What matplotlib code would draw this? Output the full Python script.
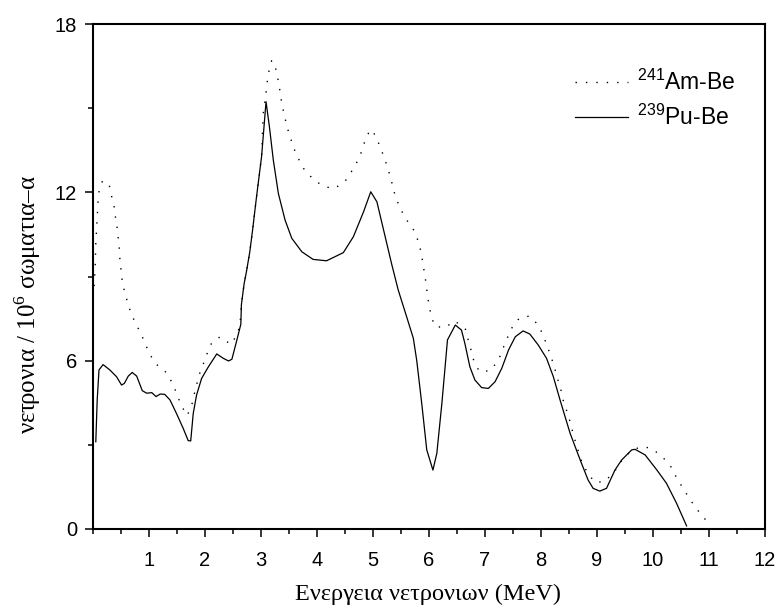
import matplotlib
matplotlib.use("Agg")
import matplotlib.pyplot as plt
from matplotlib.ticker import MultipleLocator

# Pu-Be (solid line)
pu_x = [0.05, 0.075, 0.107, 0.18, 0.30, 0.42, 0.51, 0.56, 0.63, 0.70, 0.78, 0.88,
        0.96, 1.05, 1.125, 1.20, 1.28, 1.375, 1.49, 1.61, 1.70, 1.745, 1.79, 1.85,
        1.94, 2.06, 2.21, 2.33, 2.42, 2.48, 2.57, 2.64, 2.65, 2.70, 2.74, 2.80,
        2.85, 2.92, 3.01, 3.09, 3.15, 3.22, 3.31, 3.43, 3.55, 3.73, 3.93, 4.17,
        4.47, 4.65, 4.83, 4.96, 5.07, 5.21, 5.33, 5.45, 5.60, 5.72, 5.78, 5.87,
        5.96, 6.07, 6.14, 6.23, 6.33, 6.47, 6.58, 6.64, 6.73, 6.82, 6.94, 7.06,
        7.18, 7.30, 7.42, 7.54, 7.68, 7.80, 7.95, 8.10, 8.22, 8.34, 8.52, 8.70,
        8.84, 8.93, 9.05, 9.17, 9.32, 9.44, 9.62, 9.68, 9.86, 10.07, 10.24, 10.42,
        10.60]
pu_y = [3.11, 4.6, 5.67, 5.86, 5.67, 5.43, 5.13, 5.19, 5.45, 5.58, 5.45, 4.93,
        4.84, 4.86, 4.72, 4.81, 4.80, 4.60, 4.12, 3.59, 3.15, 3.14, 4.12, 4.78,
        5.37, 5.78, 6.24, 6.08, 5.99, 6.05, 6.74, 7.30, 8.0, 8.76, 9.17, 9.88,
        10.66, 11.84, 13.27, 15.23, 14.34, 13.15, 11.96, 11.01, 10.36, 9.88, 9.61, 9.56,
        9.85, 10.42, 11.3, 12.02, 11.66, 10.48, 9.47, 8.52, 7.57, 6.80, 6.02, 4.48,
        2.82, 2.10, 2.70, 4.48, 6.74, 7.27, 7.09, 6.62, 5.78, 5.31, 5.04, 5.01,
        5.25, 5.73, 6.38, 6.85, 7.06, 6.95, 6.56, 6.08, 5.43, 4.60, 3.41, 2.46,
        1.75, 1.45, 1.35, 1.45, 2.10, 2.46, 2.82, 2.84, 2.64, 2.10, 1.63, 0.92,
        0.11]

# Am-Be (dotted line)
am_x = [0.02, 0.04, 0.05, 0.07, 0.09, 0.11, 0.17, 0.29, 0.33, 0.375, 0.40, 0.43,
        0.45, 0.47, 0.48, 0.50, 0.52, 0.56, 0.61, 0.67, 0.75, 0.85, 0.93, 1.01,
        1.125, 1.32, 1.42, 1.50, 1.57, 1.68, 1.76, 1.80, 1.85, 1.90, 1.97, 2.04,
        2.12, 2.27, 2.46, 2.57, 2.625, 2.65, 2.70, 2.74, 2.80, 2.85, 2.92, 3.01,
        3.04, 3.09, 3.11, 3.14, 3.19, 3.24, 3.28, 3.32, 3.375, 3.42, 3.46, 3.52,
        3.58, 3.66, 3.76, 3.93, 4.11, 4.30, 4.49, 4.61, 4.72, 4.80, 4.86, 4.95,
        5.05, 5.125, 5.20, 5.26, 5.32, 5.36, 5.42, 5.50, 5.61, 5.74, 5.81, 5.86,
        5.89, 5.92, 5.95, 5.97, 6.00, 6.04, 6.10, 6.28, 6.46, 6.65, 6.70, 6.75,
        6.80, 6.90, 7.09, 7.24, 7.31, 7.39, 7.47, 7.61, 7.79, 7.95, 8.04, 8.11,
        8.18, 8.24, 8.29, 8.35, 8.39, 8.45, 8.51, 8.56, 8.61, 8.67, 8.73, 8.83,
        8.96, 9.14, 9.32, 9.44, 9.59, 9.77, 9.96, 10.16, 10.32, 10.42, 10.53, 10.65,
        10.78, 10.93, 10.98]
am_y = [8.66, 9.41, 10.18, 10.92, 11.66, 12.06, 12.41, 12.26, 11.88, 11.51, 11.13, 10.75,
        10.37, 9.99, 9.62, 9.25, 8.87, 8.49, 8.13, 7.74, 7.37, 6.99, 6.62, 6.24,
        5.88, 5.56, 5.18, 4.80, 4.43, 4.04, 4.38, 4.75, 5.13, 5.52, 5.88, 6.26,
        6.64, 6.85, 6.58, 6.91, 7.27, 8.0, 8.76, 9.17, 9.88, 10.66, 11.84, 13.27,
        14.81, 15.55, 15.92, 16.30, 16.69, 16.62, 16.24, 15.86, 15.11, 14.73, 14.36, 13.98,
        13.60, 13.23, 12.85, 12.47, 12.22, 12.13, 12.36, 12.72, 13.10, 13.47, 13.86, 14.24,
        14.02, 13.62, 13.25, 12.88, 12.50, 12.12, 11.75, 11.37, 10.99, 10.62, 10.24, 9.86,
        9.49, 9.11, 8.73, 8.36, 7.98, 7.60, 7.23, 7.17, 7.42, 7.12, 6.74, 6.38,
        6.00, 5.61, 5.64, 6.01, 6.38, 6.77, 7.14, 7.51, 7.59, 7.28, 6.90, 6.52,
        6.14, 5.76, 5.39, 5.01, 4.63, 4.27, 3.88, 3.50, 3.14, 2.75, 2.38, 2.01,
        1.66, 1.69, 2.07, 2.43, 2.75, 2.93, 2.89, 2.59, 2.22, 1.83, 1.47, 1.09,
        0.71, 0.35, 0.25]

xtks = list(range(1, 13))
ytks = [0, 6, 12, 18]

plt.rcParams['font.family'] = ['Liberation Sans', 'DejaVu Sans']
plt.rcParams['mathtext.fontset'] = 'custom'
plt.rcParams['mathtext.rm'] = 'Liberation Serif'
plt.rcParams['mathtext.sf'] = 'Liberation Sans'

fig = plt.figure(figsize=(7.77, 6.08), dpi=100)
ax = fig.add_axes([93/777, 1 - 529/608, 672/777, 505/608])

ax.plot(am_x, am_y, color="black", lw=1.0, linestyle=(0, (1, 6.5)),
        label=r"$^{\mathsf{241}}$Am-Be")
ax.plot(pu_x, pu_y, color="black", lw=0.9, label=r"$^{\mathsf{239}}$Pu-Be")

ax.set_xlim(0, 12)
ax.set_ylim(0, 18)
ax.set_xticks(xtks)
ax.set_yticks(ytks)
ax.xaxis.set_minor_locator(MultipleLocator(0.5))
ax.yaxis.set_minor_locator(MultipleLocator(3))
ax.tick_params(which="both", direction="out", top=False, right=False,
               width=1.1, labelsize=14.5)
ax.tick_params(which="major", length=6)
ax.tick_params(which="minor", length=3.5)
ax.tick_params(axis="x", which="major", pad=9.5)
ax.tick_params(axis="y", which="major", pad=5.5)
for s in ax.spines.values():
    s.set_linewidth(1.5)

serif = ['Liberation Serif', 'DejaVu Serif']
ax.set_xlabel("Ενεργεια νετρονιων (MeV)", family=serif, fontsize=17.5)
ax.set_ylabel(r"νετρονια / 10$^6$ σωματια–α", family=serif, fontsize=18)
ax.xaxis.set_label_coords(0.498, -0.108)
ax.yaxis.set_label_coords(-0.075, 0.445)

ax.legend(loc="upper left", bbox_to_anchor=(0.717, 0.91), frameon=False,
          fontsize=16.5, handlelength=2.3, handletextpad=0.4, labelspacing=0.45,
          borderaxespad=0, borderpad=0)

fig.savefig("out.png", dpi=100)
